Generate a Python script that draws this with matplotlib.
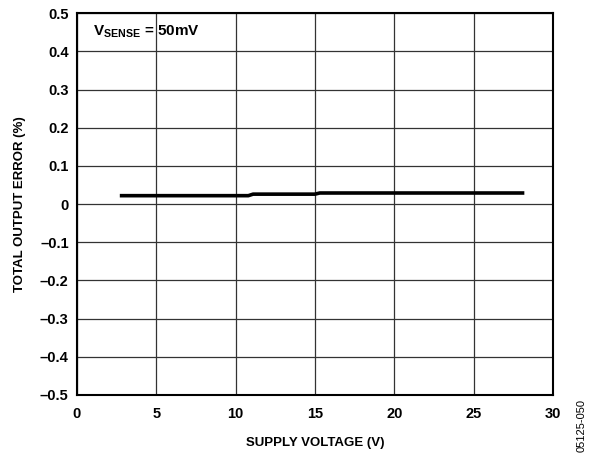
import numpy as np
import matplotlib
matplotlib.use("Agg")
import matplotlib.pyplot as plt

plt.rcParams["font.family"] = ["Liberation Sans", "DejaVu Sans"]
plt.rcParams["font.weight"] = "bold"
plt.rcParams["mathtext.fontset"] = "custom"
plt.rcParams["mathtext.rm"] = "Liberation Sans:bold"
plt.rcParams["mathtext.bf"] = "Liberation Sans:bold"

# total output error vs supply voltage, Vsense = 50mV
supply_v = [2.7, 10.8, 11.1, 15.0, 15.3, 28.2]
error_pct = [0.022, 0.022, 0.026, 0.026, 0.029, 0.029]

x_ticks = [0, 5, 10, 15, 20, 25, 30]
y_ticks = [-0.5, -0.4, -0.3, -0.2, -0.1, 0, 0.1, 0.2, 0.3, 0.4, 0.5]
y_labels = ["\u20130.5", "\u20130.4", "\u20130.3", "\u20130.2", "\u20130.1", "0",
            "0.1", "0.2", "0.3", "0.4", "0.5"]

fig = plt.figure(figsize=(5.89, 4.54), dpi=100)
ax = fig.add_axes([0.1307, 0.130, 0.808, 0.841])

ax.plot(supply_v, error_pct, color="black", lw=2.6, solid_capstyle="butt")

ax.set_xlim(0, 30)
ax.set_ylim(-0.5, 0.5)
ax.set_xticks(x_ticks)
ax.set_yticks(y_ticks)
ax.set_yticklabels(y_labels)
ax.tick_params(length=0, labelsize=10.5, pad=6)
ax.tick_params(axis="x", pad=9)
for lbl in ax.get_xticklabels() + ax.get_yticklabels():
    lbl.set_fontweight("bold")
ax.grid(True, color="#333333", lw=0.9)
for s in ax.spines.values():
    s.set_linewidth(1.5)

ax.set_xlabel("SUPPLY VOLTAGE (V)", fontsize=9.5, fontweight="bold", labelpad=11)
ax.set_ylabel("TOTAL OUTPUT ERROR (%)", fontsize=9.5, fontweight="bold", labelpad=10)

ax.text(1.0, 0.452, r"V$_{\mathrm{SENSE}}$ = 50mV", fontsize=11, fontweight="bold",
        va="center", ha="left")

fig.text(0.988, 0.005, "05125-050", rotation=90, fontsize=8, fontweight="normal",
         ha="center", va="bottom")

fig.savefig("out.png", dpi=100)
